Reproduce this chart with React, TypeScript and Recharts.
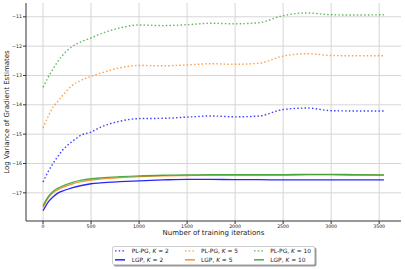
import { LineChart, Line, XAxis, YAxis, CartesianGrid } from 'recharts';

const iterations = [0, 50, 100, 150, 200, 300, 400, 500, 600, 800, 1000, 1250, 1500, 1750, 2000, 2250, 2500, 2750, 3000, 3250, 3550];

const plpgK2 = [-16.63, -16.3, -16.02, -15.78, -15.56, -15.26, -15.03, -14.93, -14.76, -14.56, -14.47, -14.46, -14.42, -14.38, -14.41, -14.38, -14.16, -14.11, -14.2, -14.21, -14.21];
const plpgK5 = [-14.79, -14.42, -14.1, -13.9, -13.7, -13.35, -13.16, -13.03, -12.92, -12.74, -12.66, -12.67, -12.64, -12.6, -12.62, -12.58, -12.34, -12.26, -12.32, -12.33, -12.33];
const plpgK10 = [-13.4, -13.08, -12.8, -12.54, -12.33, -12.02, -11.85, -11.72, -11.58, -11.38, -11.28, -11.3, -11.27, -11.22, -11.24, -11.2, -10.96, -10.87, -10.93, -10.94, -10.93];
const lgpK2 = [-17.61, -17.33, -17.15, -17.02, -16.94, -16.83, -16.75, -16.69, -16.66, -16.62, -16.59, -16.56, -16.54, -16.54, -16.55, -16.55, -16.56, -16.56, -16.56, -16.56, -16.56];
const lgpK5 = [-17.5, -17.2, -17.01, -16.9, -16.82, -16.7, -16.62, -16.57, -16.53, -16.48, -16.45, -16.42, -16.41, -16.4, -16.4, -16.4, -16.4, -16.39, -16.39, -16.4, -16.4];
const lgpK10 = [-17.44, -17.15, -16.96, -16.85, -16.77, -16.65, -16.57, -16.52, -16.49, -16.45, -16.42, -16.4, -16.39, -16.38, -16.38, -16.38, -16.38, -16.37, -16.37, -16.38, -16.39];

const xTicks = [0, 500, 1000, 1500, 2000, 2500, 3000, 3500];
const yTicks = [-17, -16, -15, -14, -13, -12, -11];

const series = [
  { key: 'plpgK2', method: 'PL-PG', k: 2, values: plpgK2, color: '#0000ff', dotted: true },
  { key: 'lgpK2', method: 'LGP', k: 2, values: lgpK2, color: '#0000ff', dotted: false },
  { key: 'plpgK5', method: 'PL-PG', k: 5, values: plpgK5, color: '#ff7f0e', dotted: true },
  { key: 'lgpK5', method: 'LGP', k: 5, values: lgpK5, color: '#ff7f0e', dotted: false },
  { key: 'plpgK10', method: 'PL-PG', k: 10, values: plpgK10, color: '#2ca02c', dotted: true },
  { key: 'lgpK10', method: 'LGP', k: 10, values: lgpK10, color: '#2ca02c', dotted: false },
];

const rows = iterations.map((it, i) => {
  const row: Record<string, number> = { iter: it };
  series.forEach((s) => {
    row[s.key] = s.values[i];
  });
  return row;
});

const font = '"DejaVu Sans", sans-serif';
const axisColor = '#333';
const minus = (v: number) => String(v).replace('-', '\u2212');

function YLabel({ viewBox }: any) {
  const cx = viewBox.x + 6.5;
  const cy = viewBox.y + viewBox.height / 2;
  return (
    <text x={cx} y={cy} transform={`rotate(-90 ${cx} ${cy})`} textAnchor='middle' dominantBaseline='central' fontSize={7} fill='#222' fontFamily={font}>
      Log Variance of Gradient Estimates
    </text>
  );
}

function XLabel({ viewBox }: any) {
  return (
    <text x={viewBox.x + viewBox.width / 2} y={viewBox.y + 14} textAnchor='middle' fontSize={7} fill='#222' fontFamily={font}>
      Number of training iterations
    </text>
  );
}

function LegendBox() {
  const order = [0, 2, 4, 1, 3, 5];
  return (
    <div
      style={{
        position: 'absolute',
        left: 111.7,
        top: 245.7,
        width: 203,
        height: 19.3,
        boxSizing: 'border-box',
        border: '1px solid #cfcfcf',
        borderRadius: 2,
        background: '#fff',
        boxShadow: '1.5px 1.5px 0 #9a9a9a',
        fontFamily: font,
        fontSize: 5.9,
        color: '#222',
      }}
    >
      <div style={{ display: 'grid', gridTemplateColumns: '69.3px 69.3px 1fr', gridAutoRows: '9.7px', marginTop: -1, paddingLeft: 0.6 }}>
        {order.map((idx) => {
          const s = series[idx];
          return (
            <div key={s.key} style={{ display: 'flex', alignItems: 'center', whiteSpace: 'nowrap' }}>
              <svg width={16} height={9.7} style={{ flex: 'none' }}>
                <line
                  x1={2}
                  x2={12}
                  y1={4.85}
                  y2={4.85}
                  stroke={s.color}
                  strokeWidth={1.3}
                  strokeDasharray={s.dotted ? '1.5 2.2' : undefined}
                  strokeOpacity={s.dotted ? 0.8 : 1}
                />
              </svg>
              <span style={{ marginLeft: 2.4 }}>
                {s.method}, <i>K</i> = {s.k}
              </span>
            </div>
          );
        })}
      </div>
    </div>
  );
}

export default function App() {
  return (
    <div style={{ position: 'absolute', left: 0, top: 0, width: 405, height: 269, background: '#fff' }}>
      <LineChart width={405} height={269} data={rows} margin={{ top: 3, right: 4, left: 0, bottom: 28 }}>
        <CartesianGrid stroke='#d6d6d6' strokeWidth={1} horizontalValues={yTicks} verticalValues={xTicks} />
        <XAxis
          dataKey='iter'
          type='number'
          domain={[-177.5, 3727.5]}
          ticks={xTicks}
          allowDataOverflow
          height={20}
          tickSize={3}
          tickMargin={1}
          tick={{ fontSize: 4.7, fill: '#222', fontFamily: font }}
          stroke={axisColor}
          label={<XLabel />}
        />
        <XAxis xAxisId='top' orientation='top' dataKey='iter' type='number' domain={[-177.5, 3727.5]} height={0} tick={false} tickLine={false} stroke={axisColor} />
        <YAxis
          type='number'
          domain={[-17.96, -10.53]}
          ticks={yTicks}
          allowDataOverflow
          width={26}
          tickSize={3}
          tickMargin={1}
          tickFormatter={minus}
          tick={{ fontSize: 4.7, fill: '#222', fontFamily: font }}
          stroke={axisColor}
          label={<YLabel />}
        />
        <YAxis yAxisId='right' orientation='right' type='number' domain={[-17.96, -10.53]} width={0} tick={false} tickLine={false} stroke={axisColor} />
        {series.map((s) => (
          <Line
            key={s.key}
            dataKey={s.key}
            type='monotone'
            stroke={s.color}
            strokeWidth={s.dotted ? 1.4 : 1.3}
            strokeDasharray={s.dotted ? '1.5 2.2' : undefined}
            strokeOpacity={s.dotted ? 0.75 : 0.85}
            dot={false}
            activeDot={false}
            isAnimationActive={false}
          />
        ))}
      </LineChart>
      <LegendBox />
    </div>
  );
}
